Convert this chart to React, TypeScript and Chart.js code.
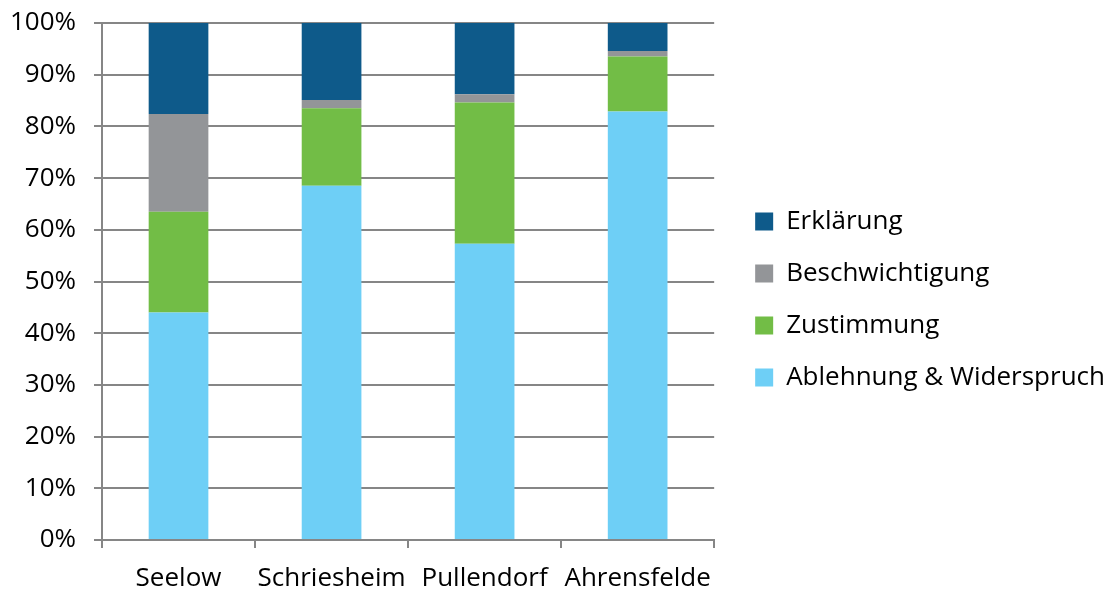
import React, { useEffect, useRef } from "react";
import { Chart, registerables } from "chart.js";

Chart.register(...registerables);

const categories = ["Seelow", "Schriesheim", "Pullendorf", "Ahrensfelde"];
const ablehnung = [44.0, 68.5, 57.3, 82.9];
const zustimmung = [19.5, 15.0, 27.3, 10.6];
const beschwichtigung = [18.9, 1.6, 1.6, 1.1];
const erklaerung = [17.6, 14.9, 13.8, 5.4];
const yTicks = [0, 10, 20, 30, 40, 50, 60, 70, 80, 90, 100];

const GRID = "#868686";
const FONT = "'Open Sans', sans-serif";

const legendShift = {
  id: "legendShift",
  afterLayout(chart: any) {
    const lg = chart.legend;
    if (lg) {
      lg.left += 15;
      lg.right += 15;
    }
  },
};

export default function App() {
  const ref = useRef<HTMLCanvasElement | null>(null);
  useEffect(() => {
    let chart: Chart | null = null;
    let cancelled = false;
    const build = () => {
      if (cancelled || !ref.current) return;
      chart = new Chart(ref.current, {
        type: "bar",
        data: {
          labels: categories,
          datasets: [
            { label: "Ablehnung & Widerspruch", data: ablehnung, backgroundColor: "#6ECFF6" },
            { label: "Zustimmung", data: zustimmung, backgroundColor: "#72BD46" },
            { label: "Beschwichtigung", data: beschwichtigung, backgroundColor: "#939598" },
            { label: "Erklärung", data: erklaerung, backgroundColor: "#0E5A8A" },
          ].map((d) => ({ ...d, barPercentage: 0.39, categoryPercentage: 1, borderWidth: 0 })),
        },
        plugins: [legendShift],
        options: {
          animation: false,
          responsive: false,
          maintainAspectRatio: false,
          layout: { padding: { left: 9, top: 6, right: 9, bottom: 0 } },
          plugins: {
            tooltip: { enabled: false },
            legend: {
              position: "right",
              reverse: true,
              maxWidth: 420,
              labels: {
                boxWidth: 18,
                boxHeight: 18,
                padding: 26,
                color: "#000",
                font: { family: FONT, size: 26 },
              },
            },
          },
          scales: {
            x: {
              stacked: true,
              afterFit: (s: any) => {
                s.height = 53;
              },
              grid: {
                offset: true,
                drawOnChartArea: false,
                drawTicks: true,
                tickLength: 8,
                color: GRID,
                lineWidth: 2,
              },
              border: { color: GRID, width: 2 },
              ticks: {
                color: "#000",
                padding: 15,
                autoSkip: false,
                maxRotation: 0,
                minRotation: 0,
                font: { family: FONT, size: 26 },
              },
            },
            y: {
              stacked: true,
              min: 0,
              max: 100,
              afterBuildTicks: (s: any) => {
                s.ticks = yTicks.map((v) => ({ value: v }));
              },
              afterFit: (s: any) => {
                s.width = 93;
                s.paddingTop = 23;
              },
              grid: { color: GRID, lineWidth: 2, tickLength: 8 },
              border: { color: GRID, width: 2 },
              ticks: {
                color: "#000",
                padding: 18,
                font: { family: FONT, size: 26 },
                callback: (v: any) => v + "%",
              },
            },
          },
        },
      });
    };
    const fonts: any = (document as any).fonts;
    if (fonts && fonts.load) {
      Promise.all([fonts.load("26px 'Open Sans'"), fonts.load("26px 'Open Sans'", "Ablehnung & Widerspruch 100%")])
        .then(build, build);
    } else {
      build();
    }
    return () => {
      cancelled = true;
      if (chart) chart.destroy();
    };
  }, []);
  return (
    <div style={{ position: "fixed", left: 0, top: 0, width: 1109, height: 593, background: "#fff" }}>
      <canvas ref={ref} width={1109} height={593} style={{ width: 1109, height: 593 }} />
    </div>
  );
}
